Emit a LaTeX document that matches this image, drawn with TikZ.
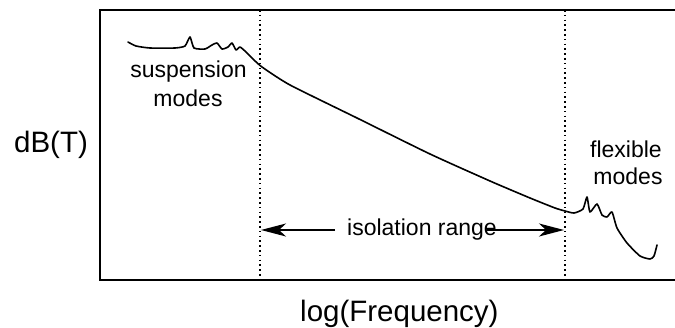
\documentclass[tikz,border=0pt]{standalone}
\usepackage{fontspec}
\setmainfont{Liberation Sans}
\usetikzlibrary{arrows.meta}
\begin{document}
\begin{tikzpicture}[x=1pt,y=-1pt,
  lbl/.style={inner sep=0pt, anchor=base, font=\fontsize{23}{28}\selectfont},
  biglbl/.style={inner sep=0pt, anchor=base, font=\fontsize{29.5}{34}\selectfont},
  frame/.style={line width=2pt},
  guide/.style={line width=1.6pt, dash pattern=on 1.6pt off 3.2pt},
  resp/.style={line width=1.6pt, line join=round, line cap=round},
  rangearrow/.style={line width=1.6pt, -{Stealth[length=25pt,width=13pt,inset=7pt]}}]
\useasboundingbox (0,0) rectangle (675,328);
% frame (right side lies outside the picture)
\draw[frame] (690,10) -- (100,10) -- (100,280) -- (690,280);
% dotted guides
\coordinate (g1t) at (260,10);
\coordinate (g1b) at (260,280);
\coordinate (g2t) at (565,10);
\coordinate (g2b) at (565,280);
\draw[guide] (g1t) -- (g1b);
\draw[guide] (g2t) -- (g2b);
% response curve
\draw[resp] plot[smooth, tension=0.35] coordinates {
 (128,42) (136,46) (150,48) (175,48) (185,46) (190,37) (194,48) (205,49) (212,45)
 (217,43) (222,49) (228,47) (232,43) (236,50) (240,47) (246,52) (252,58) (262,67)
 (290,85) (357,118) (430,154) (490,181) (530,198) (555,208) (565,211) (574,213)
 (583,209) (587,197) (590,212) (597,204) (602,215) (607,217) (612,212) (617,228)
 (627,243) (640,256) (650,259) (654,256) (657,245)};
% labels
\node[biglbl] (ylab) at (51,153) {dB(T)};
\node[biglbl, anchor=base west] (xlab) at (300,322) {log(Frequency)};
\node[lbl] (susp1) at (188.5,78) {suspension};
\node[lbl] (susp2) at (188,107) {modes};
\node[lbl] (flex1) at (626,158) {flexible};
\node[lbl] (flex2) at (628,185) {modes};
\node[lbl] (iso) at (422,236) {isolation range};
% isolation range arrows
\coordinate (aL) at (261,230);
\coordinate (aR) at (564,230);
\path ([xshift=-12pt]iso.west) coordinate (isoL);
\path ([xshift=-10pt]iso.east) coordinate (isoR);
\draw[rangearrow] (isoL |- aL) -- (aL);
\draw[rangearrow] (isoR |- aR) -- (aR);
\end{tikzpicture}
\end{document}
